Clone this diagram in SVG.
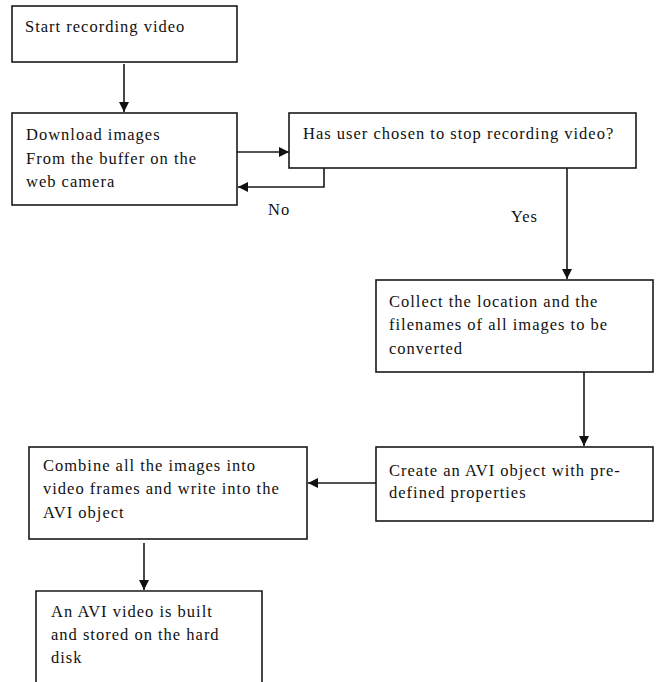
<svg xmlns="http://www.w3.org/2000/svg" width="659" height="682" viewBox="0 0 659 682">
  <style>
    .box { fill: #ffffff; stroke: #1a1a1a; stroke-width: 1.6; }
    .lbl { font-family: "Liberation Serif", "Times New Roman", serif; font-size: 16.5px; letter-spacing: 1px; fill: #111111; }
    .wire { fill: none; stroke: #1a1a1a; stroke-width: 1.6; }
  </style>
  <defs>
    <marker id="arrow" viewBox="0 0 10 10" refX="10" refY="5" markerWidth="10" markerHeight="10" markerUnits="userSpaceOnUse" orient="auto">
      <path d="M0,0 L10,5 L0,10 Z" fill="#111111"/>
    </marker>
  </defs>
  <rect width="659" height="682" fill="#ffffff"/>

  <g id="connectors">
    <path class="wire" d="M124,64 V112" marker-end="url(#arrow)"/>
    <path class="wire" d="M237,152 H289" marker-end="url(#arrow)"/>
    <path class="wire" d="M324,168 V187 H238" marker-end="url(#arrow)"/>
    <path class="wire" d="M567,168 V279" marker-end="url(#arrow)"/>
    <path class="wire" d="M584,372 V446" marker-end="url(#arrow)"/>
    <path class="wire" d="M376,483 H308" marker-end="url(#arrow)"/>
    <path class="wire" d="M144,543 V590" marker-end="url(#arrow)"/>
    <text class="lbl" x="268" y="215">No</text>
    <text class="lbl" x="511" y="222">Yes</text>
  </g>

  <g id="start">
    <rect class="box" x="12" y="6" width="225" height="56"/>
    <text class="lbl" x="25" y="32">Start recording video</text>
  </g>

  <g id="download">
    <rect class="box" x="12" y="113" width="225" height="92"/>
    <text class="lbl" x="26" y="140">Download images</text>
    <text class="lbl" x="26" y="164">From the buffer on the</text>
    <text class="lbl" x="26" y="187">web camera</text>
  </g>

  <g id="decision">
    <rect class="box" x="289" y="113" width="347" height="55"/>
    <text class="lbl" x="303" y="139">Has user chosen to stop recording video?</text>
  </g>

  <g id="collect">
    <rect class="box" x="376" y="280" width="277" height="92"/>
    <text class="lbl" x="389" y="307">Collect the location and the</text>
    <text class="lbl" x="389" y="330">filenames of all images to be</text>
    <text class="lbl" x="389" y="354">converted</text>
  </g>

  <g id="create">
    <rect class="box" x="376" y="447" width="277" height="74"/>
    <text class="lbl" x="389" y="476">Create an AVI object with pre-</text>
    <text class="lbl" x="389" y="498">defined properties</text>
  </g>

  <g id="combine">
    <rect class="box" x="29" y="447" width="278" height="92"/>
    <text class="lbl" x="43" y="471">Combine all the images into</text>
    <text class="lbl" x="43" y="494">video frames and write into the</text>
    <text class="lbl" x="43" y="518">AVI object</text>
  </g>

  <g id="result">
    <path class="box" d="M36,690 V591 H262 V690"/>
    <text class="lbl" x="51" y="617">An AVI video is built</text>
    <text class="lbl" x="51" y="640">and stored on the hard</text>
    <text class="lbl" x="51" y="663">disk</text>
  </g>
</svg>
